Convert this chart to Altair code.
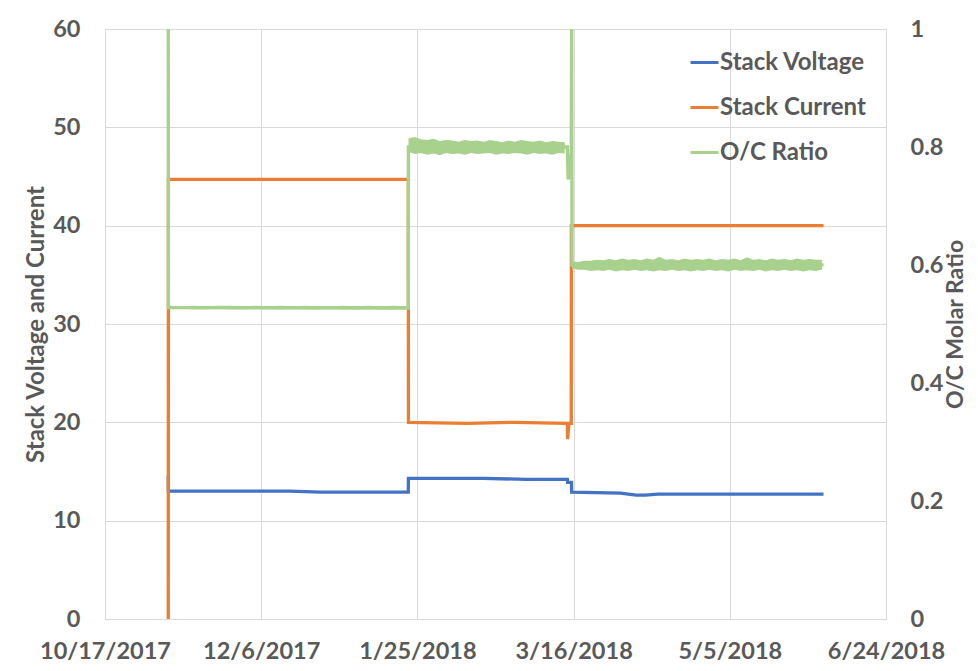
import altair as alt
import pandas as pd

# ---------------- data ----------------
series_names = ["Stack Voltage", "Stack Current", "O/C Ratio"]
series_colors = ["#4472C4", "#ED7D31", "#A9D18E"]

voltage_times = ["2017-11-06T06:00", "2017-11-06T07:00", "2017-12-15T00:00", "2017-12-25T00:00",
                 "2018-01-22T02:00", "2018-01-22T03:00", "2018-02-15T00:00", "2018-03-01T00:00",
                 "2018-03-14T00:00", "2018-03-14T02:00", "2018-03-15T08:00", "2018-03-15T09:00",
                 "2018-03-31T00:00", "2018-04-05T00:00", "2018-04-08T00:00", "2018-04-12T00:00",
                 "2018-06-04T00:00"]
voltage_values = [14.6, 13.0, 13.0, 12.9,
                  12.9, 14.3, 14.3, 14.2,
                  14.2, 13.9, 13.9, 12.9,
                  12.8, 12.6, 12.6, 12.7,
                  12.7]

current_times = ["2017-11-06T06:00", "2017-11-06T07:00", "2018-01-22T02:00", "2018-01-22T03:00",
                 "2018-02-10T00:00", "2018-02-25T00:00", "2018-03-14T00:00", "2018-03-14T02:00",
                 "2018-03-14T12:00", "2018-03-15T06:00", "2018-03-15T07:00", "2018-06-04T00:00"]
current_values = [0.0, 44.7, 44.7, 20.0,
                  19.9, 20.0, 19.9, 18.3,
                  19.9, 19.9, 40.0, 40.0]

# O/C ratio centre line
ratio_times = ["2017-11-06T06:00", "2017-11-06T07:00", "2018-01-22T02:00", "2018-01-22T03:00",
               "2018-03-14T00:00", "2018-03-14T06:00", "2018-03-14T18:00", "2018-03-15T06:00",
               "2018-03-15T09:00", "2018-03-15T12:00", "2018-06-04T00:00"]
ratio_values = [1.0, 0.528, 0.527, 0.80,
                0.80, 0.745, 0.76, 0.79,
                1.0, 0.60, 0.60]

# O/C ratio noise band (upper / lower envelope of the fuzzy trace)
band_p1_start, band_p1_step = "2017-11-06T08:00", "4D"
band_p1_upper = [0.531, 0.530, 0.531, 0.530, 0.531, 0.531, 0.530, 0.531, 0.530, 0.531,
                 0.530, 0.531, 0.530, 0.530, 0.531, 0.530, 0.531, 0.530, 0.531, 0.530]
band_p1_lower = [0.525, 0.526, 0.525, 0.525, 0.526, 0.525, 0.525, 0.526, 0.525, 0.525,
                 0.526, 0.525, 0.525, 0.526, 0.525, 0.525, 0.526, 0.525, 0.525, 0.526]

band_p2_start, band_p2_step = "2018-01-22T04:00", "2D"
band_p2_upper = [0.815, 0.817, 0.813, 0.812, 0.814, 0.810, 0.812, 0.811, 0.809, 0.812,
                 0.810, 0.811, 0.809, 0.812, 0.810, 0.808, 0.811, 0.809, 0.812, 0.810,
                 0.809, 0.811, 0.808, 0.810, 0.809, 0.808]
band_p2_lower = [0.792, 0.788, 0.790, 0.787, 0.789, 0.786, 0.790, 0.788, 0.789, 0.787,
                 0.790, 0.788, 0.789, 0.790, 0.787, 0.789, 0.788, 0.790, 0.789, 0.787,
                 0.790, 0.788, 0.789, 0.787, 0.790, 0.789]

band_p3_start, band_p3_step = "2018-03-15T12:00", "2D"
band_p3_upper = [0.606, 0.605, 0.607, 0.607, 0.609, 0.608, 0.610, 0.608, 0.611, 0.609,
                 0.610, 0.608, 0.611, 0.609, 0.614, 0.609, 0.610, 0.608, 0.611, 0.609,
                 0.610, 0.609, 0.611, 0.608, 0.610, 0.609, 0.611, 0.608, 0.613, 0.609,
                 0.610, 0.608, 0.611, 0.609, 0.610, 0.608, 0.611, 0.609, 0.610, 0.609, 0.609]
band_p3_lower = [0.594, 0.592, 0.592, 0.590, 0.591, 0.590, 0.592, 0.589, 0.591, 0.590,
                 0.592, 0.590, 0.591, 0.589, 0.591, 0.590, 0.592, 0.590, 0.591, 0.589,
                 0.591, 0.590, 0.592, 0.590, 0.591, 0.589, 0.592, 0.590, 0.591, 0.590,
                 0.592, 0.589, 0.591, 0.590, 0.592, 0.590, 0.591, 0.589, 0.591, 0.590, 0.592]

x_tick_dates = [(2017, 10, 17), (2017, 12, 6), (2018, 1, 25), (2018, 3, 16), (2018, 5, 5), (2018, 6, 24)]
left_ticks = [0, 10, 20, 30, 40, 50, 60]
right_ticks = [0, 0.2, 0.4, 0.6, 0.8, 1]

# ---------------- build tables ----------------
rows = []
for t, v in zip(voltage_times, voltage_values):
    rows.append({"time": t, "value": v, "series": "Stack Voltage"})
for t, v in zip(current_times, current_values):
    rows.append({"time": t, "value": v, "series": "Stack Current"})
for t, v in zip(ratio_times, ratio_values):
    rows.append({"time": t, "value": v, "series": "O/C Ratio"})
df = pd.DataFrame(rows)
df["seq"] = range(len(df))

band_rows = []
for k, (start, step, up, lo) in enumerate([(band_p1_start, band_p1_step, band_p1_upper, band_p1_lower),
                                           (band_p2_start, band_p2_step, band_p2_upper, band_p2_lower),
                                           (band_p3_start, band_p3_step, band_p3_upper, band_p3_lower)]):
    ts = pd.date_range(start, periods=len(up), freq=step)
    for t, u, l in zip(ts, up, lo):
        band_rows.append({"time": t.strftime("%Y-%m-%dT%H:%M"), "upper": u, "lower": l, "part": k})
band_df = pd.DataFrame(band_rows)

FONT = "Lato"
TXT = "#595959"
GRID = "#D9D9D9"
GREEN = series_colors[2]


def dt(y, m, d):
    return alt.DateTime(year=y, month=m, date=d)


x_enc = alt.X(
    "time:T",
    scale=alt.Scale(domain=[dt(2017, 10, 17), dt(2018, 6, 24)], nice=False),
    axis=alt.Axis(values=[dt(*d) for d in x_tick_dates], format="%-m/%-d/%Y", title=None,
                  grid=True, gridColor=GRID, domain=True, domainColor=GRID, ticks=False,
                  labelPadding=20, labelFontSize=23.5, labelFont=FONT, labelFontWeight="bold",
                  labelColor=TXT, labelFlush=False, labelOverlap=False),
)

color_enc = alt.Color(
    "series:N",
    scale=alt.Scale(domain=series_names, range=series_colors),
    legend=alt.Legend(title=None, orient="none", legendX=584, legendY=18,
                      symbolType="stroke", symbolSize=784, symbolStrokeWidth=3,
                      labelFont=FONT, labelFontSize=24, labelFontWeight="bold", labelColor=TXT,
                      labelOffset=0, rowPadding=17, padding=0),
)

left_axis = alt.Axis(values=left_ticks, title="Stack Voltage and Current", grid=True,
                     gridColor=GRID, domain=False, ticks=False, labelPadding=25,
                     labelFontSize=23.5, labelFont=FONT, labelFontWeight="bold", labelColor=TXT,
                     titleFont=FONT, titleFontSize=24, titleFontWeight="bold", titleColor=TXT,
                     titleAngle=270, titleX=-69, titleY=295, titleAlign="center",
                     titleBaseline="middle")

right_axis = alt.Axis(orient="right", values=right_ticks, format="~g", title="O/C Molar Ratio",
                      grid=False, domain=False, ticks=False, labelPadding=24,
                      labelFontSize=23.5, labelFont=FONT, labelFontWeight="bold", labelColor=TXT,
                      titleFont=FONT, titleFontSize=23, titleFontWeight="bold", titleColor=TXT,
                      titleAngle=270, titleX=69, titleY=295, titleAlign="center",
                      titleBaseline="middle")

right_scale = alt.Scale(domain=[0, 1], nice=False)

left = alt.Chart(df).transform_filter(
    alt.FieldOneOfPredicate(field="series", oneOf=["Stack Voltage", "Stack Current"])
).mark_line(strokeWidth=3.3).encode(
    x=x_enc,
    y=alt.Y("value:Q", scale=alt.Scale(domain=[0, 60], nice=False), axis=left_axis),
    color=color_enc,
    order="seq:Q",
)

band = alt.Chart(band_df).mark_area(color=GREEN, opacity=1, clip=True).encode(
    x=x_enc,
    y=alt.Y("upper:Q", scale=right_scale, axis=right_axis),
    y2="lower:Q",
    detail="part:N",
)

ratio_line = alt.Chart(df).transform_filter(
    alt.datum.series == "O/C Ratio"
).mark_line(strokeWidth=3.4, clip=True).encode(
    x=x_enc,
    y=alt.Y("value:Q", scale=right_scale, axis=right_axis),
    color=color_enc,
    order="seq:Q",
)

right = alt.layer(band, ratio_line)

chart = alt.layer(left, right).resolve_scale(y="independent").properties(
    width=781, height=590,
    autosize=alt.AutoSizeParams(type="none"),
    padding={"left": 97, "top": 21, "right": 84, "bottom": 44},
).configure_view(stroke=None).configure(background="white")

chart.save("out.html", embed_options={"renderer": "svg", "actions": False})
